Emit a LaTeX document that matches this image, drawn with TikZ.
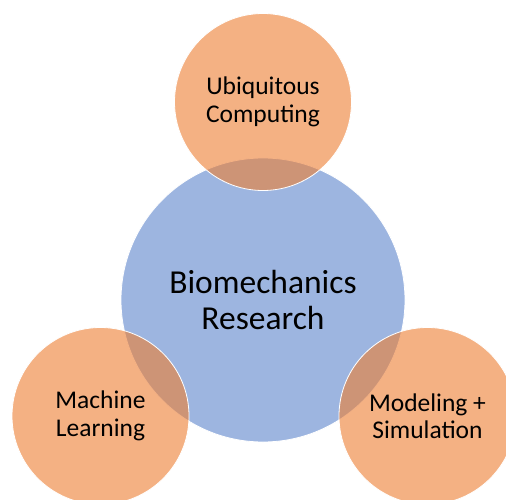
\documentclass[tikz,border=0pt]{standalone}
\usepackage{fontspec}
\setmainfont{Carlito}
\definecolor{venblue}{HTML}{4472C4}
\definecolor{venorange}{HTML}{ED7D31}
\tikzset{
  bigcirc/.style={circle, fill=venblue, fill opacity=0.52, text opacity=1, draw=white, draw opacity=1, line width=0.8pt, minimum size=284pt, inner sep=0pt, align=center, font=\fontsize{33.5}{36}\selectfont},
  smallcirc/.style={circle, fill=venorange, fill opacity=0.6, text opacity=1, draw=white, draw opacity=1, line width=0.8pt, minimum size=177pt, inner sep=0pt, align=center, font=\fontsize{25.5}{27.5}\selectfont}
}
\begin{document}
\begin{tikzpicture}[x=1pt,y=-1pt]
\useasboundingbox (0,0) rectangle (506,500);
\clip (0,0) rectangle (506,500);
\node[bigcirc] (bio) at (263,300) {Biomechanics\\Research};
\node[smallcirc] (ubi) at (263,102) {Ubiquitous\\Computing};
\node[smallcirc] (ml) at (100.5,416) {Machine\\Learning};
\node[smallcirc] (mod) at (427.5,416) {Modeling +\\Simulation};
\end{tikzpicture}
\end{document}
